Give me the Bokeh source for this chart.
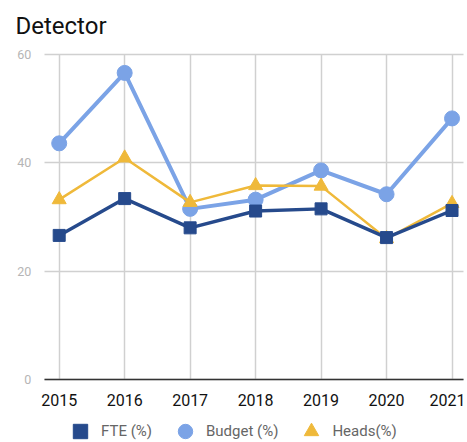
from bokeh.plotting import figure
from bokeh.models import Legend, LegendItem, ColumnDataSource, FixedTicker, Range1d, Label
from bokeh.embed import file_html
from bokeh.resources import INLINE

years = [2015, 2016, 2017, 2018, 2019, 2020, 2021]
fte = [26.6, 33.4, 28.0, 31.1, 31.5, 26.2, 31.2]
budget = [43.6, 56.6, 31.5, 33.2, 38.6, 34.2, 48.2]
heads = [33.2, 40.9, 32.7, 35.8, 35.7, 26.0, 32.5]
y_ticks = [0, 20, 40, 60]

src = ColumnDataSource(dict(x=years, fte=fte, budget=budget, heads=heads))

X0, X1 = 2014.1034, 2021.2059
Y0, Y1 = -11.446, 69.969
PLOT_LEFT, PLOT_RIGHT = 2014.7709, 2021.1757

p = figure(width=465, height=441, output_backend="svg", toolbar_location=None,
           x_range=Range1d(X0, X1), y_range=Range1d(Y0, Y1),
           min_border_left=0, min_border_right=0,
           min_border_top=0, min_border_bottom=0)
p.outline_line_color = None
p.background_fill_color = "white"
p.border_fill_color = "white"

p.xaxis.fixed_location = 0
p.yaxis.fixed_location = PLOT_LEFT
p.xaxis.bounds = (PLOT_LEFT, PLOT_RIGHT)
p.yaxis.bounds = (0, 60)

p.xaxis.ticker = FixedTicker(ticks=years)
p.yaxis.ticker = FixedTicker(ticks=y_ticks)
p.xaxis.axis_line_color = "#333333"
p.xaxis.axis_line_width = 1.5
p.xaxis.major_tick_line_color = None
p.xaxis.minor_tick_line_color = None
p.xaxis.major_label_text_font = "Roboto"
p.xaxis.major_label_text_font_size = "16px"
p.xaxis.major_label_text_color = "#111111"
p.xaxis.major_label_standoff = 8
p.yaxis.axis_line_color = None
p.yaxis.major_tick_line_color = None
p.yaxis.minor_tick_line_color = None
p.yaxis.major_label_text_font = "Roboto"
p.yaxis.major_label_text_font_size = "12.5px"
p.yaxis.major_label_text_color = "#b5b5b5"
p.yaxis.major_label_standoff = 7

for g, cb in ((p.xgrid[0], (0, 60)), (p.ygrid[0], (PLOT_LEFT, PLOT_RIGHT))):
    g.grid_line_color = "#d0d0d0"
    g.grid_line_width = 1.5
    if "cross_bounds" in g.properties():
        g.cross_bounds = cb
p.ygrid[0].bounds = (0, 60)

c_fte = "#264a8c"
c_bud = "#7ba3e6"
c_hd = "#efb93a"

p.line("x", "budget", source=src, line_color=c_bud, line_width=4)
r_bud = p.scatter("x", "budget", source=src, marker="circle", size=15, color=c_bud)
p.line("x", "heads", source=src, line_color=c_hd, line_width=2.5)
r_hd = p.scatter("x", "heads", source=src, marker="triangle", size=14, color=c_hd)
p.line("x", "fte", source=src, line_color=c_fte, line_width=3.5)
r_fte = p.scatter("x", "fte", source=src, marker="square", size=12, color=c_fte)

title = Label(x=15, y=416, x_units="screen", y_units="screen", text="Detector",
              text_font="Roboto", text_font_size="24px", text_color="#111111",
              text_baseline="alphabetic", text_align="left")
p.add_layout(title)

legend = Legend(items=[LegendItem(label="FTE (%)", renderers=[r_fte]),
                       LegendItem(label="Budget (%)", renderers=[r_bud]),
                       LegendItem(label="Heads(%)", renderers=[r_hd])],
                orientation="horizontal", location=(62, -8),
                border_line_color=None, background_fill_alpha=0,
                label_text_font="Roboto", label_text_font_size="15px",
                label_text_color="#666666", spacing=15, glyph_width=36,
                glyph_height=36, label_height=36,
                label_standoff=3, margin=0, padding=0)
p.add_layout(legend, "center")

open("out.html", "w").write(file_html(p, INLINE))
